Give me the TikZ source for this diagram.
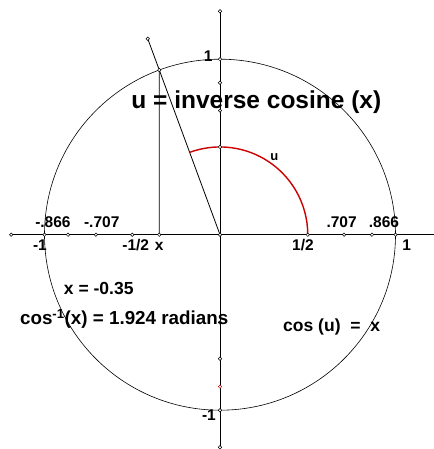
\documentclass[tikz,border=0pt]{standalone}
\usepackage{fontspec}
\setmainfont{Liberation Sans}
\usepackage{xcolor}
\definecolor{ArcRed}{HTML}{CC0000}

\begin{document}
\begin{tikzpicture}[x=175.5pt,y=175.5pt,
  pt/.style={circle,draw,fill=white,inner sep=0pt,minimum size=3.4pt,line width=0.5pt},
  lbl/.style={font=\bfseries\fontsize{15.5}{16}\selectfont,inner sep=0pt,anchor=base},
  txt/.style={font=\bfseries\fontsize{17.5}{18}\selectfont,inner sep=0pt,anchor=base}]
  \useasboundingbox (-220pt,-214.3pt) rectangle (213pt,234.7pt);
  \coordinate (o) at (0,0);
  \coordinate (xl) at (-1.19,0);
  \coordinate (xr) at (1.3,0);
  \coordinate (yt) at (0,1.273);
  \coordinate (yb) at (0,-1.211);
  \coordinate (p) at (110.24:1);
  \coordinate (q) at (110.24:1.19);
  \coordinate (px) at (-0.346,0);
  \coordinate (h) at (0.5,0);
  % circle, axes, radius
  \draw[line width=0.6pt] (o) circle (1);
  \draw[line width=1pt] (xl) -- (xr);
  \draw[line width=1pt] (yb) -- (yt);
  \draw[line width=0.8pt] (o) -- (q);
  \draw[line width=0.8pt] (p) -- (px);
  \draw[ArcRed,line width=1.4pt] (h) arc[start angle=0,end angle=110.24,radius=0.5];
  % points
  \foreach \v [count=\i] in {-1.19,-1,-0.866,-0.707,-0.5,0,0.5,0.707,0.866,1}
    \node[pt] (xd\i) at (\v,0) {};
  \foreach \v [count=\i] in {1.273,1,0.866,0.707,0.5,-0.5,-0.707,-1,-1.211}
    \node[pt] (yd\i) at (0,\v) {};
  \node[pt,draw=ArcRed] (yred) at (0,-0.866) {};
  \node[pt] (ppt) at (p) {};
  \node[pt] (qpt) at (q) {};
  \node[pt] (xpt) at (px) {};
  % labels
  \foreach \x/\txt [count=\i] in {-0.952/-.866,-0.674/-.707,0.693/.707,0.934/.866}
    \node[lbl] (up\i) at (\x,0.042) {\txt};
  \foreach \x/\txt [count=\i] in {-1.026/-1,-0.480/-1\slash 2,-0.346/x,0.473/1\slash 2,1.063/1}
    \node[lbl] (dn\i) at (\x,-0.089) {\txt};
  \node[lbl] (ytop) at (-0.067,0.986) {1};
  \node[lbl] (ybot) at (-0.063,-1.060) {-1};
  \node[lbl,font=\bfseries\fontsize{13}{14}\selectfont,anchor=center] (ulbl) at (0.309,0.441) {u};
  \node[txt,font=\bfseries\fontsize{24.5}{26}\selectfont] (title) at (0.207,0.719) {u = inverse cosine (x)};
  \node[txt] (xval) at (-0.691,-0.340) {x = -0.35};
  \node[txt,font=\bfseries\fontsize{18.8}{20}\selectfont] (acos) at (-0.546,-0.511) {cos\textsuperscript{-1}(x) = 1.924 radians};
  \node[txt] (cosu) at (0.636,-0.549) {cos (u) \ = \ x};
\end{tikzpicture}
\end{document}
